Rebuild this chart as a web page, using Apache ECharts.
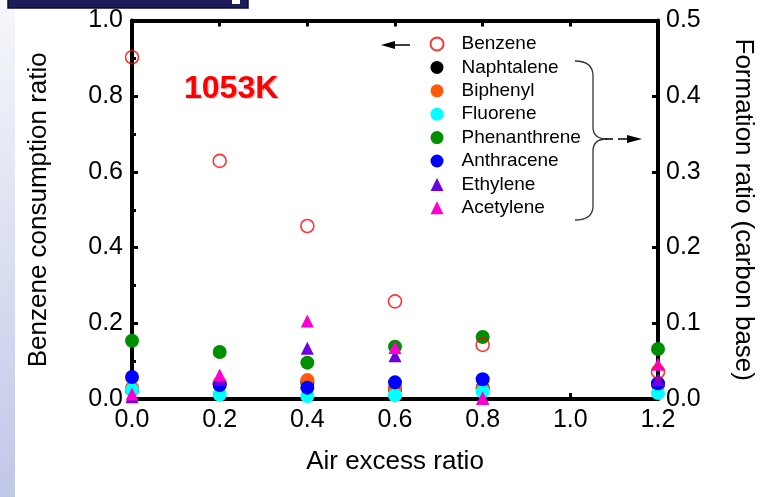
<!DOCTYPE html>
<html>
<head>
<meta charset="utf-8">
<script src="https://cdn.jsdelivr.net/npm/echarts@6/dist/echarts.min.js"></script>
<style>
  html, body { margin: 0; padding: 0; background: #fff; }
  #main { width: 764px; height: 497px; }
</style>
</head>
<body>
<div id="main"></div>
<script>
// air excess ratio (x) and measured values
const airRatio = [0, 0.2, 0.4, 0.6, 0.8, 1.2];
const benzene = [0.903, 0.629, 0.457, 0.258, 0.143, 0.072]; // left axis
const naphtalene = [0.012, 0.020, 0.022, 0.013, 0.015, 0.019];
const biphenyl = [0.015, 0.021, 0.025, 0.0145, 0.014, 0.020];
const fluorene = [0.012, 0.006, 0.004, 0.005, 0.0096, 0.008];
const phenanthrene = [0.077, 0.062, 0.048, 0.069, 0.082, 0.066];
const anthracene = [0.029, 0.0184, 0.015, 0.022, 0.026, 0.0207];
const ethylene = [0.003, 0.026, 0.067, 0.057, 0.001, 0.0254];
const acetylene = [0.0066, 0.0316, 0.103, 0.068, 0.001, 0.046];

const legendNames = ['Benzene', 'Naphtalene', 'Biphenyl', 'Fluorene', 'Phenanthrene', 'Anthracene', 'Ethylene', 'Acetylene'];

const FONT = '"Liberation Sans", Arial, sans-serif';

function pts(vals) {
  return airRatio.map((x, i) => [x, vals[i]]);
}

function dot(name, vals, color, symbol, size) {
  return {
    name: name,
    type: 'scatter',
    yAxisIndex: 1,
    symbol: symbol || 'circle',
    symbolSize: size || 14,
    itemStyle: { color: color, opacity: 1 },
    data: pts(vals)
  };
}

function seg(x1, y1, x2, y2, w) {
  return { type: 'line', silent: true, shape: { x1: x1, y1: y1, x2: x2, y2: y2 }, style: { stroke: '#000', lineWidth: w || 1.5 } };
}

function curve(x1, y1, cx, cy, x2, y2) {
  return {
    type: 'bezierCurve', silent: true,
    shape: { x1: x1, y1: y1, cpx1: cx, cpy1: cy, x2: x2, y2: y2 },
    style: { stroke: '#333', lineWidth: 1.3, fill: null }
  };
}

const chart = echarts.init(document.getElementById('main'));

const axisCommon = {
  type: 'value',
  axisLine: { show: true, onZero: false, lineStyle: { color: '#000', width: 4 } },
  axisTick: { show: true, inside: true, length: 6, lineStyle: { color: '#000', width: 3 } },
  axisLabel: { color: '#000', fontSize: 25, fontFamily: FONT, formatter: v => v.toFixed(1) },
  splitLine: { show: false },
  nameLocation: 'middle',
  nameTextStyle: { color: '#000', fontSize: 26, fontFamily: FONT }
};

const option = {
  animation: false,
  backgroundColor: '#fff',
  grid: { left: 132, right: 105, top: 20.5, bottom: 98 },
  legend: {
    data: legendNames,
    orient: 'vertical',
    left: 429.5,
    top: 34,
    padding: 0,
    itemWidth: 13,
    itemHeight: 13,
    itemGap: 3.4,
    selectedMode: false,
    textStyle: { color: '#000', fontSize: 19, fontFamily: FONT, lineHeight: 20, padding: [0, 0, 0, 13] }
  },
  xAxis: [
    Object.assign({}, axisCommon, {
      min: 0, max: 1.2, interval: 0.2,
      position: 'bottom',
      axisLabel: Object.assign({}, axisCommon.axisLabel, { margin: 9 }),
      name: 'Air excess ratio',
      nameGap: 50
    }),
    Object.assign({}, axisCommon, {
      min: 0, max: 1.2, interval: 0.2,
      position: 'top',
      axisLabel: { show: false }
    })
  ],
  yAxis: [
    Object.assign({}, axisCommon, {
      min: 0, max: 1, interval: 0.2,
      position: 'left',
      minorTick: { show: true, splitNumber: 2, length: 4, lineStyle: { color: '#000', width: 3 } },
      axisLabel: Object.assign({}, axisCommon.axisLabel, { margin: 9 }),
      name: 'Benzene consumption ratio',
      nameGap: 80
    }),
    Object.assign({}, axisCommon, {
      min: 0, max: 0.5, interval: 0.1,
      position: 'right',
      axisLabel: Object.assign({}, axisCommon.axisLabel, { margin: 8 }),
      name: 'Formation ratio (carbon base)',
      nameRotate: -90,
      nameGap: 72
    })
  ],
  series: [
    dot('Naphtalene', naphtalene, '#000000'),
    dot('Biphenyl', biphenyl, '#ff5a0a'),
    dot('Fluorene', fluorene, '#00ffff'),
    dot('Phenanthrene', phenanthrene, '#008f00'),
    dot('Anthracene', anthracene, '#0000ff'),
    dot('Ethylene', ethylene, '#6f00e0', 'triangle', 13),
    dot('Acetylene', acetylene, '#ff00d2', 'triangle', 13),
    {
      name: 'Benzene',
      type: 'scatter',
      yAxisIndex: 0,
      symbol: 'circle',
      symbolSize: 13,
      itemStyle: { color: 'rgba(255,255,255,0)', borderColor: '#ff0000', borderWidth: 1.6 },
      data: pts(benzene)
    }
  ],
  graphic: [
    // slide decoration: left stripe and top banner
    {
      type: 'rect', silent: true, z: -10,
      shape: { x: 0, y: 0, width: 15, height: 497 },
      style: {
        fill: new echarts.graphic.LinearGradient(0, 0, 0, 1, [
          { offset: 0, color: '#f6f7fb' },
          { offset: 1, color: '#c0c8e8' }
        ])
      }
    },
    {
      type: 'rect', silent: true,
      shape: { x: 8, y: -3, width: 240, height: 11 },
      style: { fill: '#1c1c58', stroke: '#0c0c30', lineWidth: 1.5 }
    },
    {
      type: 'rect', silent: true,
      shape: { x: 232, y: 0, width: 8, height: 4 },
      style: { fill: '#ffffff' }
    },
    // temperature label
    {
      type: 'text', silent: true,
      x: 184, y: 89,
      style: {
        text: '1053K', fill: '#ff0000', font: 'bold 32px ' + FONT,
        verticalAlign: 'middle',
        textShadowColor: 'rgba(0,0,0,0.25)', textShadowOffsetX: 1.5, textShadowOffsetY: 1.5, textShadowBlur: 1
      }
    },
    // arrow pointing to left axis
    seg(392, 45, 410, 45),
    { type: 'polygon', silent: true, shape: { points: [[381, 45], [395, 41], [395, 49]] }, style: { fill: '#000' } },
    // brace grouping the products
    curve(575, 61, 593, 61, 593, 76),
    { type: 'line', silent: true, shape: { x1: 593, y1: 76, x2: 593, y2: 127 }, style: { stroke: '#333', lineWidth: 1.3 } },
    curve(593, 127, 593, 139, 607, 139),
    curve(607, 139, 593, 139, 593, 151),
    { type: 'line', silent: true, shape: { x1: 593, y1: 151, x2: 593, y2: 206 }, style: { stroke: '#333', lineWidth: 1.3 } },
    curve(593, 206, 593, 220, 575, 220),
    seg(606, 139, 613, 139),
    // arrow pointing to right axis
    seg(618, 139, 630, 139),
    { type: 'polygon', silent: true, shape: { points: [[642, 139], [627, 135], [627, 143]] }, style: { fill: '#000' } }
  ]
};

chart.setOption(option);
</script>
</body>
</html>
